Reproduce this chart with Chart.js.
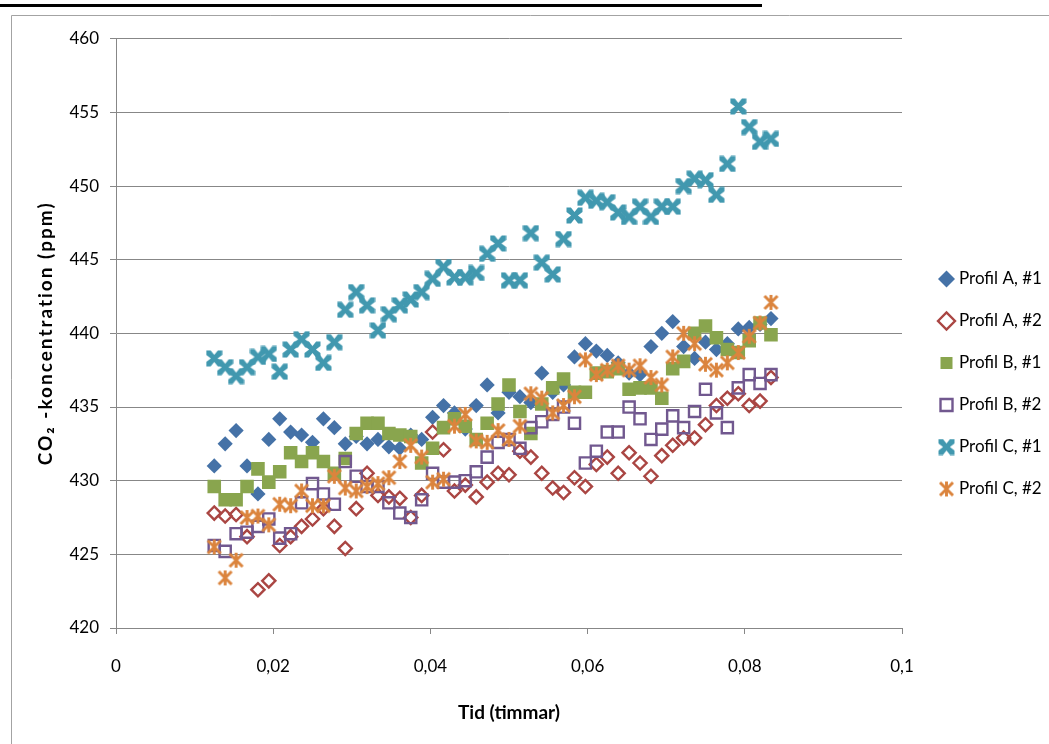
<!DOCTYPE html>
<html>
<head>
<meta charset="utf-8">
<script src="https://cdn.jsdelivr.net/npm/chart.js@4/dist/chart.umd.min.js"></script>
<style>
  html, body { margin: 0; padding: 0; background: #fff; }
  #wrap { width: 1049px; height: 744px; position: relative; }
  canvas { display: block; }
</style>
</head>
<body>
<div id="wrap"><canvas id="chart" width="1049" height="744"></canvas></div>
<script>
// Sampling times (hours), one reading every 5 s from 45 s to 300 s
const tid = [
  0.0125, 0.01389, 0.01528, 0.01667, 0.01806, 0.01944, 0.02083, 0.02222, 0.02361, 0.025,
  0.02639, 0.02778, 0.02917, 0.03056, 0.03194, 0.03333, 0.03472, 0.03611, 0.0375, 0.03889,
  0.04028, 0.04167, 0.04306, 0.04444, 0.04583, 0.04722, 0.04861, 0.05, 0.05139, 0.05278,
  0.05417, 0.05556, 0.05694, 0.05833, 0.05972, 0.06111, 0.0625, 0.06389, 0.06528, 0.06667,
  0.06806, 0.06944, 0.07083, 0.07222, 0.07361, 0.075, 0.07639, 0.07778, 0.07917, 0.08056,
  0.08194, 0.08333
];

// CO2 readings (ppm) per profile and repetition
const profilA1 = [
  431.0, 432.5, 433.4, 431.0, 429.1, 432.8, 434.2, 433.3, 433.1, 432.6,
  434.2, 433.6, 432.5, 433.0, 432.5, 432.8, 432.3, 432.2, 433.1, 432.8,
  434.3, 435.1, 434.6, 433.5, 435.1, 436.5, 434.6, 436.0, 435.7, 435.3,
  437.3, 436.0, 436.5, 438.4, 439.3, 438.8, 438.5, 438.0, 437.3, 437.2,
  439.1, 440.0, 440.8, 439.1, 438.3, 439.4, 438.9, 439.3, 440.3, 440.4,
  440.6, 441.0
];
const profilA2 = [
  427.8, 427.6, 427.7, 426.2, 422.6, 423.2, 425.6, 426.2, 426.9, 427.4,
  428.1, 426.9, 425.4, 428.1, 430.5, 429.0, 428.9, 428.8, 427.5, 429.0,
  433.3, 432.1, 429.3, 429.7, 428.9, 429.9, 430.5, 430.4, 432.0, 431.6,
  430.5, 429.5, 429.2, 430.2, 429.6, 431.1, 431.6, 430.5, 431.9, 431.2,
  430.3, 431.7, 432.4, 432.9, 432.9, 433.8, 435.1, 435.6, 435.9, 435.1,
  435.4, 437.0
];
const profilB1 = [
  429.6, 428.7, 428.7, 429.6, 430.8, 429.9, 430.6, 431.9, 431.3, 431.9,
  431.3, 430.5, 431.5, 433.2, 433.9, 433.9, 433.2, 433.1, 433.0, 431.2,
  432.2, 433.6, 434.2, 433.7, 432.8, 433.9, 435.2, 436.5, 434.7, 433.2,
  435.2, 436.3, 436.9, 436.0, 436.0, 437.3, 437.4, 437.6, 436.2, 436.3,
  436.3, 435.6, 437.6, 438.1, 440.0, 440.5, 439.7, 438.9, 438.7, 439.5,
  440.7, 439.9
];
const profilB2 = [
  425.6, 425.2, 426.4, 426.5, 426.9, 427.4, 426.1, 426.4, 428.5, 429.8,
  429.1, 428.4, 431.3, 430.3, 429.6, 429.6, 428.5, 427.8, 427.5, 428.7,
  430.5, 429.9, 429.9, 430.0, 430.6, 431.6, 432.6, 432.8, 432.2, 433.6,
  434.0, 434.5, 435.0, 433.9, 431.2, 432.0, 433.3, 433.3, 435.0, 434.2,
  432.8, 433.5, 434.4, 433.6, 434.7, 436.2, 434.6, 433.6, 436.3, 437.2,
  436.6, 437.2
];
const profilC1 = [
  438.3, 437.7, 437.1, 437.7, 438.4, 438.6, 437.4, 438.9, 439.6, 438.9,
  438.0, 439.4, 441.6, 442.8, 441.9, 440.2, 441.3, 441.9, 442.3, 442.8,
  443.7, 444.5, 443.8, 443.8, 444.1, 445.4, 446.1, 443.6, 443.6, 446.8,
  444.8, 444.0, 446.4, 448.0, 449.2, 449.0, 448.9, 448.2, 447.9, 448.6,
  447.9, 448.6, 448.6, 450.0, 450.5, 450.4, 449.4, 451.5, 455.4, 454.0,
  453.0, 453.2
];
const profilC2 = [
  425.5, 423.4, 424.6, 427.5, 427.6, 427.0, 428.4, 428.3, 429.3, 428.3,
  428.3, 430.3, 429.5, 429.3, 429.6, 429.8, 430.2, 431.3, 432.4, 431.6,
  429.9, 430.1, 433.7, 434.5, 432.7, 432.6, 433.4, 432.8, 433.7, 435.9,
  435.6, 434.6, 435.1, 435.7, 438.2, 437.2, 437.5, 437.8, 437.5, 437.8,
  437.0, 436.5, 438.4, 440.0, 439.3, 437.9, 437.5, 438.0, 438.7, 439.8,
  440.7, 442.1
];

const seriesNames = ['Profil A, #1', 'Profil A, #2', 'Profil B, #1', 'Profil B, #2', 'Profil C, #1', 'Profil C, #2'];
const xTickLabels = ['0', '0,02', '0,04', '0,06', '0,08', '0,1'];
const yTickLabels = ['420', '425', '430', '435', '440', '445', '450', '455', '460'];

const FONT = 'Lato, "Open Sans", "DejaVu Sans", sans-serif';
const GRID = '#878787';

// Fat "X" marker
function makeCrossMark(color) {
  const c = document.createElement('canvas');
  c.width = 17; c.height = 17;
  const g = c.getContext('2d');
  g.translate(8.5, 8.5);
  const s = 8, e = 4.4, d = 4.6;
  g.beginPath();
  g.moveTo(-s, -s); g.lineTo(-s + e, -s); g.lineTo(0, -s + d); g.lineTo(s - e, -s); g.lineTo(s, -s);
  g.lineTo(s, -s + e); g.lineTo(s - d, 0); g.lineTo(s, s - e); g.lineTo(s, s);
  g.lineTo(s - e, s); g.lineTo(0, s - d); g.lineTo(-s + e, s); g.lineTo(-s, s);
  g.lineTo(-s, s - e); g.lineTo(-s + d, 0); g.lineTo(-s, -s + e);
  g.closePath();
  g.fillStyle = color;
  g.fill();
  return c;
}

// Star marker: an X with a vertical bar
function makeStarMark(color) {
  const c = document.createElement('canvas');
  c.width = 17; c.height = 17;
  const g = c.getContext('2d');
  g.translate(8.5, 8.5);
  g.strokeStyle = color;
  g.lineWidth = 2.9;
  g.lineCap = 'butt';
  g.beginPath();
  g.moveTo(-6.5, -6.5); g.lineTo(6.5, 6.5);
  g.moveTo(-6.5, 6.5); g.lineTo(6.5, -6.5);
  g.moveTo(0, -7.5); g.lineTo(0, 7.5);
  g.stroke();
  return c;
}

function pts(values) {
  return values.map((v, i) => ({ x: tid[i], y: v }));
}

// Outer frame, the rule across the top, and spaced lettering for the y title
const framePlugin = {
  id: 'frame',
  beforeDraw(chart) {
    const ctx = chart.ctx;
    ctx.save();
    ctx.fillStyle = '#fff';
    ctx.fillRect(0, 0, chart.width, chart.height);
    ctx.strokeStyle = '#a3a3a3';
    ctx.lineWidth = 1;
    ctx.beginPath();
    ctx.moveTo(11.5, chart.height);
    ctx.lineTo(11.5, 15.5);
    ctx.lineTo(chart.width, 15.5);
    ctx.stroke();
    ctx.fillStyle = '#000';
    ctx.fillRect(0, 4, 762, 3);
    ctx.restore();

    const yScale = chart.scales.y;
    if (yScale && !yScale.__spacedTitle) {
      const drawTitle = yScale.drawTitle;
      yScale.drawTitle = function () {
        const c = this.ctx;
        c.save();
        c.letterSpacing = '2px';
        drawTitle.call(this);
        c.restore();
      };
      yScale.__spacedTitle = true;
    }
  }
};

// Fixed legend box: reserve a set width on the right, then place the items
const legendPlacement = {
  id: 'legendPlacement',
  beforeLayout(chart) {
    const lg = chart.legend;
    if (lg && !lg.__fixedWidth) {
      const fit = lg.fit;
      lg.fit = function () { fit.call(this); this.width = 147; };
      lg.__fixedWidth = true;
    }
  },
  afterLayout(chart) {
    const lg = chart.legend;
    if (!lg) return;
    lg.left = 917.5; lg.right = 1049; lg.width = 131.5;
    lg.top = 245.5; lg.bottom = 744; lg.height = 498.5;
  }
};

const datasets = [
  { label: seriesNames[0], data: pts(profilA1), pointStyle: 'rectRot', pointRadius: 7.6,
    backgroundColor: '#4572A7', borderColor: '#4572A7', borderWidth: 0, order: 6 },
  { label: seriesNames[1], data: pts(profilA2), pointStyle: 'rectRot', pointRadius: 6.6,
    backgroundColor: 'rgba(0,0,0,0)', borderColor: '#AA4643', borderWidth: 2.4, order: 5 },
  { label: seriesNames[2], data: pts(profilB1), pointStyle: 'rect', pointRadius: 9.6,
    backgroundColor: '#89A54E', borderColor: '#89A54E', borderWidth: 0, order: 4 },
  { label: seriesNames[3], data: pts(profilB2), pointStyle: 'rect', pointRadius: 7.9,
    backgroundColor: 'rgba(0,0,0,0)', borderColor: '#71588F', borderWidth: 2.4, order: 3 },
  { label: seriesNames[4], data: pts(profilC1), pointStyle: makeCrossMark('#4198AF'), pointRadius: 8,
    backgroundColor: '#4198AF', borderColor: '#4198AF', borderWidth: 0, order: 2 },
  { label: seriesNames[5], data: pts(profilC2), pointStyle: makeStarMark('#DB843D'), pointRadius: 8,
    backgroundColor: '#DB843D', borderColor: '#DB843D', borderWidth: 0, order: 1 }
];

new Chart(document.getElementById('chart'), {
  type: 'scatter',
  data: { datasets },
  options: {
    responsive: false,
    animation: false,
    events: [],
    devicePixelRatio: 1,
    layout: { padding: { top: 38.7, right: 0, bottom: 0, left: 0 } },
    elements: { point: { hoverRadius: 0 } },
    scales: {
      x: {
        type: 'linear',
        min: 0, max: 0.1,
        afterFit(scale) { scale.height = 116; },
        ticks: {
          stepSize: 0.02,
          padding: 22.8,
          color: '#000',
          font: { family: FONT, size: 17 },
          maxRotation: 0,
          autoSkip: false,
          callback: (v, i) => xTickLabels[i]
        },
        grid: { display: true, drawOnChartArea: false, drawTicks: true, tickLength: 6, color: GRID, lineWidth: 1 },
        border: { display: true, color: GRID, width: 1 },
        title: {
          display: true,
          text: 'Tid (timmar)',
          color: '#000',
          font: { family: FONT, size: 19, weight: 'bold' },
          padding: { top: 0, bottom: 19.6 }
        }
      },
      y: {
        type: 'linear',
        min: 420, max: 460,
        afterFit(scale) { scale.width = 116; },
        ticks: {
          stepSize: 5,
          padding: 11,
          color: '#000',
          font: { family: FONT, size: 17 },
          callback: (v, i) => yTickLabels[i]
        },
        grid: { display: true, drawOnChartArea: true, drawTicks: true, tickLength: 6, color: GRID, lineWidth: 1 },
        border: { display: true, color: GRID, width: 1 },
        title: {
          display: true,
          text: 'CO\u2082 -koncentration (ppm)',
          color: '#000',
          font: { family: FONT, size: 19, weight: 'bold' },
          padding: { top: 34.6, bottom: 0 }
        }
      }
    },
    plugins: {
      tooltip: { enabled: false },
      legend: {
        display: true,
        position: 'right',
        align: 'start',
        labels: {
          usePointStyle: true,
          boxWidth: 8,
          boxHeight: 12,
          padding: 25,
          color: '#000',
          font: { family: FONT, size: 17 },
          sort: (a, b) => a.datasetIndex - b.datasetIndex
        }
      }
    }
  },
  plugins: [framePlugin, legendPlacement]
});
</script>
</body>
</html>
